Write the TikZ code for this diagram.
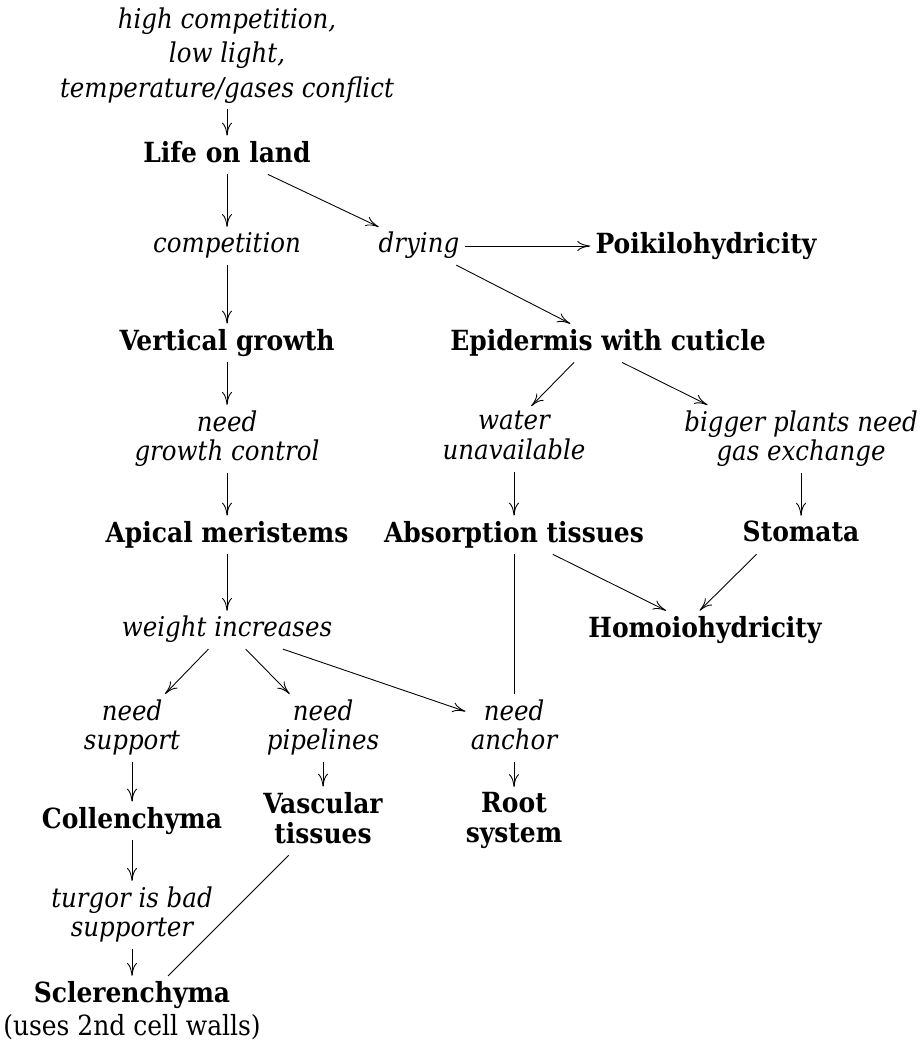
\documentclass[tikz,border=0pt]{standalone}
\usepackage{fontspec}
\setmainfont{DejaVu Serif Condensed}
\usetikzlibrary{arrows.meta}
\newcommand\lnstrut{\rule[-0.25em]{0pt}{1em}}

\begin{document}
\begin{tikzpicture}[
    x=0.02cm, y=-0.02cm,
    every node/.style={align=center, inner sep=0.1cm, font=\fontsize{15.5}{17}\selectfont,
        execute at begin node=\lnstrut, execute at end node=\lnstrut},
    term/.style={font=\fontsize{15.8}{17}\selectfont\bfseries},
    why/.style={font=\fontsize{15.5}{17}\selectfont\itshape},
    arr/.style={-{To[length=2.6mm,width=2mm]}, line width=0.5pt},
    ln/.style={line width=0.5pt},
    lean/.style={transform canvas={xshift=#1}}
]
\useasboundingbox (0,0) rectangle (923,1045);

\node[why] (cause) at (227,56) {high competition,\\[2.5pt]low light,\\[2.5pt]temperature/gases conflict};
\node[term] (land) at (227,155) {Life on land};
\node[why] (compet) at (227,246) {competition};
\node[why] (drying) at (419,246) {drying};
\node[term] (poikilo) at (706,246) {Poikilohydricity};
\node[term] (vertical) at (227,343) {Vertical growth};
\node[term] (epidermis) at (608,343) {Epidermis with cuticle};
\node[why] (control) at (227,439) {need\\growth control};
\node[why] (water) at (514,439) {water\\unavailable};
\node[why] (gas) at (801,439) {bigger plants need\\gas exchange};
\node[term] (apical) at (227,535) {Apical meristems};
\node[term] (absorb) at (514,535) {Absorption tissues};
\node[term] (stomata) at (801,535) {Stomata};
\node[why] (weight) at (227,630) {weight increases};
\node[term] (homoio) at (705,630) {Homoiohydricity};
\node[why] (support) at (132,728) {need\\support};
\node[why] (pipes) at (323,728) {need\\pipelines};
\node[why] (anchorneed) at (514,728) {need\\anchor};
\node[term] (collen) at (132,821) {Collenchyma};
\node[term] (vascular) at (323,821) {Vascular\\tissues};
\node[term] (root) at (514,821) {Root\\system};
\node[why] (turgor) at (132,915) {turgor is bad\\supporter};
\node[term] (scleren) at (132,1012) {Sclerenchyma\\[2pt]\normalfont(uses 2nd cell walls)};

\draw[arr] (cause) -- (land);
\draw[arr] (land) -- (compet);
\draw[arr] (land) -- (drying);
\draw[arr] (drying) -- (poikilo);
\draw[arr] (compet) -- (vertical);
\draw[arr] (drying) -- (epidermis);
\draw[arr] (vertical) -- (control);
\draw[arr, lean=-0.3cm] (epidermis) -- (water);
\draw[arr, lean=-0.5cm] (epidermis) -- (gas);
\draw[arr] (control) -- (apical);
\draw[arr] (water) -- (absorb);
\draw[arr] (gas) -- (stomata);
\draw[arr] (apical) -- (weight);
\draw[arr] (absorb) -- (homoio);
\draw[arr, lean=-0.5cm] (stomata) -- (homoio);
\draw[ln] (absorb) -- (anchorneed);
\draw[arr] (weight) -- (support);
\draw[arr] (weight) -- (pipes);
\draw[arr] (weight) -- (anchorneed);
\draw[arr] (support) -- (collen);
\draw[arr] (pipes) -- (vascular);
\draw[arr] (anchorneed) -- (root);
\draw[arr] (collen) -- (turgor);
\draw[ln] (vascular) -- (scleren);
\draw[arr] (turgor) -- (scleren);
\end{tikzpicture}
\end{document}
